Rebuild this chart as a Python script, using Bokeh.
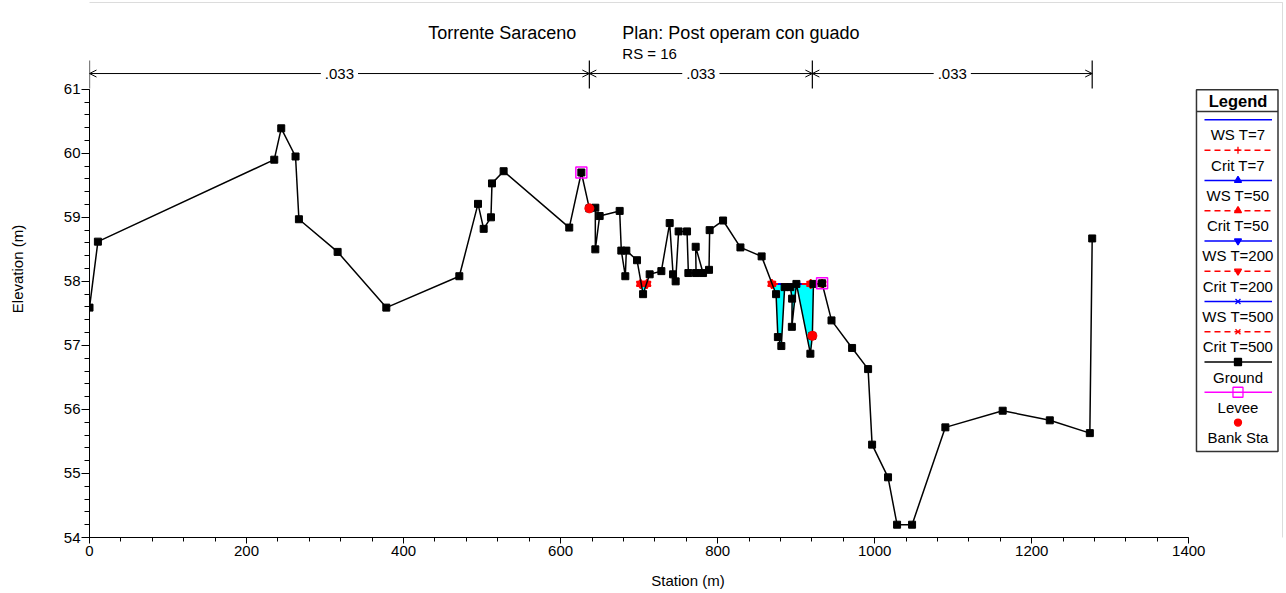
import numpy as np
from bokeh.plotting import figure
from bokeh.models import Range1d, SingleIntervalTicker, Arrow, OpenHead, Label, BoxAnnotation
from bokeh.core.properties import value
from bokeh.embed import file_html
from bokeh.resources import INLINE

FONT = "Liberation Sans"

# ---------------- data ----------------
title_left = "Torrente Saraceno"
title_right = "Plan: Post operam con guado"
subtitle = "RS = 16"

station = [0.0, 10.7, 235.3, 244.2, 262.4, 266.7, 316.0, 378.0, 471.0, 494.8,
           502.0, 511.3, 512.6, 527.4, 611.0, 626.4, 636.6, 644.2, 644.2, 649.7,
           675.2, 677.3, 682.4, 683.7, 697.3, 705.0, 713.4, 728.3, 738.9, 743.2,
           746.5, 750.3, 761.0, 762.7, 772.5, 772.0, 781.4, 789.0, 789.8, 806.9,
           829.0, 856.0, 874.4, 876.7, 881.1, 885.3, 892.6, 894.8, 894.5, 900.3,
           918.1, 920.6, 922.0, 933.0, 945.0, 971.2, 991.6, 996.7, 1017.0, 1028.5,
           1047.6, 1090.0, 1163.0, 1223.0, 1274.0, 1277.0]
elevation = [57.59, 58.62, 59.90, 60.39, 59.95, 58.97, 58.46, 57.59, 58.08, 59.21,
             58.82, 59.00, 59.53, 59.72, 58.84, 59.70, 59.14, 59.15, 58.50, 59.02,
             59.10, 58.48, 58.08, 58.48, 58.33, 57.80, 58.11, 58.16, 58.91, 58.11,
             58.00, 58.78, 58.78, 58.13, 58.13, 58.54, 58.13, 58.18, 58.80, 58.95,
             58.53, 58.39, 57.80, 57.13, 56.99, 57.91, 57.91, 57.73, 57.29, 57.96,
             56.87, 57.15, 57.96, 57.97, 57.39, 56.96, 56.63, 55.45, 54.94, 54.20,
             54.20, 55.72, 55.98, 55.83, 55.63, 58.67]

levee_sta = [626.4, 933.0]
levee_elev = [59.70, 57.97]
bank_sta = [636.6, 920.6]
bank_elev = [59.14, 57.15]

return_periods = ["7", "50", "200", "500"]
ws_elev = [57.96, 57.96, 57.96, 57.96]
crit_elev = [57.96, 57.96, 57.96, 57.96]
ws_extents = [[701.8, 709.8], [869.0, 933.0]]
crit_points = [[701.8, 709.8], [869.0, 918.5, 933.0]]

mann_n = [".033", ".033", ".033"]
n_breaks = [0.0, 636.6, 920.6, 1277.0]

x_label = "Station (m)"
y_label = "Elevation (m)"

# ---------------- layout helpers (reference pixel -> data) ----------------
X0PX, XS = 89.3, 0.785
Y0PX, YS = 536.7, 64.0


def px_x(px):
    return (px - X0PX) / XS


def px_y(py):
    return 54.0 + (Y0PX - py) / YS


W, H = 1286, 593
BL, BB = 89, 56
p = figure(width=W, height=H, output_backend="svg", toolbar_location=None,
           x_range=Range1d(0, px_x(W)), y_range=Range1d(54, px_y(0)),
           min_border_left=BL, min_border_right=0, min_border_top=0,
           min_border_bottom=BB)
p.outline_line_color = None
p.xgrid.visible = False
p.ygrid.visible = False
p.background_fill_color = "white"
p.border_fill_color = "white"

# outer frame of the whole picture
p.add_layout(BoxAnnotation(left=4, right=1282, top=2, bottom=591,
                           left_units="canvas", right_units="canvas",
                           top_units="canvas", bottom_units="canvas",
                           fill_color=None, fill_alpha=0, line_color="#8a8a8a",
                           line_width=1, level="underlay"))

# axes
p.xaxis.ticker = SingleIntervalTicker(interval=200, num_minor_ticks=5)
p.yaxis.ticker = SingleIntervalTicker(interval=1, num_minor_ticks=5)
p.xaxis.bounds = (0, 1400)
p.yaxis.bounds = (54, 61)
p.xaxis.axis_label = x_label
p.yaxis.axis_label = y_label
for ax in (p.xaxis, p.yaxis):
    ax.axis_line_color = "black"
    ax.major_tick_line_color = "black"
    ax.minor_tick_line_color = "black"
    ax.major_tick_in = 0
    ax.minor_tick_in = 0
    ax.major_label_text_font = FONT
    ax.major_label_text_font_size = "15px"
    ax.major_label_text_color = "black"
    ax.axis_label_text_font = FONT
    ax.axis_label_text_font_size = "15px"
    ax.axis_label_text_font_style = "normal"
    ax.axis_label_text_color = "black"
p.xaxis.major_tick_out = 6
p.xaxis.minor_tick_out = 4
p.xaxis.major_label_standoff = 2
p.xaxis.axis_label_standoff = 13
p.yaxis.major_tick_out = 8
p.yaxis.minor_tick_out = 5
p.yaxis.major_label_standoff = 1
p.yaxis.axis_label_standoff = 35

# ---------------- water (cyan fill) ----------------
st = np.array(station)
el = np.array(elevation)
ws = ws_elev[-1]
for x0, x1 in ws_extents:
    mask = (st > x0) & (st < x1)
    xs = [x0] + list(st[mask]) + [x1]
    ys = [ws] + list(np.minimum(el[mask], ws)) + [ws]
    p.patch(xs, ys, fill_color="#00FFFF", line_color=None)

# WS lines (blue)
ws_markers = [None, "triangle", "inverted_triangle", "x"]
for k, T in enumerate(return_periods):
    for seg in ws_extents:
        p.line(seg, [ws_elev[k]] * len(seg), line_color="blue", line_width=1.5)
        if ws_markers[k]:
            p.scatter(seg, [ws_elev[k]] * len(seg), marker=ws_markers[k], size=7,
                      line_color="blue", fill_color="blue")

# Crit lines (red dashed)
crit_markers = ["cross", "triangle", "inverted_triangle", "x"]
for k, T in enumerate(return_periods):
    for seg in crit_points:
        p.line(seg, [crit_elev[k]] * len(seg), line_color="red", line_width=1.2,
               line_dash="6 4")
        p.scatter(seg, [crit_elev[k]] * len(seg), marker=crit_markers[k], size=8,
                  line_color="red", fill_color="red", line_width=1.5)

# ground
p.line(station, elevation, line_color="black", line_width=1.5)
p.scatter(station, elevation, marker="square", size=7, line_color="black",
          fill_color="black")

# levee & bank stations
p.scatter(levee_sta, levee_elev, marker="square", size=11, line_color="#FF00FF",
          fill_color=None, line_width=1.5)
p.scatter(bank_sta, bank_elev, marker="circle", size=9, line_color="red",
          fill_color="red")

# ---------------- Manning's n bar ----------------
yn = px_y(73)
p.segment(x0=n_breaks, y0=[px_y(88)] * len(n_breaks), x1=n_breaks,
          y1=[px_y(60)] * len(n_breaks), line_color="black", line_width=1.2)
for i, nv in enumerate(mann_n):
    a, b = n_breaks[i], n_breaks[i + 1]
    p.add_layout(Arrow(start=OpenHead(size=7, line_width=1, line_color="black"),
                       end=OpenHead(size=7, line_width=1, line_color="black"),
                       x_start=a, x_end=b, y_start=yn, y_end=yn,
                       line_color="black", line_width=1))
    p.add_layout(Label(x=(a + b) / 2, y=yn, text=nv, text_align="center",
                       text_baseline="middle", text_font=FONT,
                       text_font_size="15px", text_color="black",
                       background_fill_color="white", padding=4))

# ---------------- titles ----------------
p.add_layout(Label(x=px_x(428), y=px_y(32), text=title_left, text_align="left",
                   text_baseline="alphabetic", text_font=FONT,
                   text_font_size="18px", text_color="black"))
p.add_layout(Label(x=px_x(622), y=px_y(32), text=title_right, text_align="left",
                   text_baseline="alphabetic", text_font=FONT,
                   text_font_size="18px", text_color="black"))
p.add_layout(Label(x=px_x(622), y=px_y(53), text=subtitle, text_align="left",
                   text_baseline="alphabetic", text_font=FONT,
                   text_font_size="15px", text_color="black"))

# ---------------- custom legend (glyph above label) ----------------
leg_labels = ["WS T=7", "Crit T=7", "WS T=50", "Crit T=50", "WS T=200",
              "Crit T=200", "WS T=500", "Crit T=500", "Ground", "Levee", "Bank Sta"]
leg_line_color = ["blue", "red", "blue", "red", "blue", "red", "blue", "red",
                  "black", "#FF00FF", None]
leg_dash = ["solid", "6 4", "solid", "6 4", "solid", "6 4", "solid", "6 4",
            "solid", "solid", None]
leg_marker = [None, "cross", "triangle", "triangle", "inverted_triangle",
              "inverted_triangle", "x", "x", "square", "square", "circle"]
leg_mfill = [None, "red", "blue", "red", "blue", "red", "blue", "red", "black",
             None, "red"]
leg_mline = [None, "red", "blue", "red", "blue", "red", "blue", "red", "black",
             "#FF00FF", "red"]

bl, br, bt, bb = 1196, 1277.5, 89.3, 450.7
p.quad(left=[px_x(bl)], right=[px_x(br)], top=[px_y(bt)], bottom=[px_y(bb)],
       fill_color="white", line_color="#333333", line_width=1.5)
p.segment(x0=[px_x(bl)], y0=[px_y(111)], x1=[px_x(br)], y1=[px_y(111)],
          line_color="#333333", line_width=1.5)
p.text(x=[px_x(1237.5)], y=[px_y(100)], text=["Legend"], text_align="center",
       text_baseline="middle", text_font=value(FONT), text_font_size="16.5px",
       text_font_style="bold", text_color="black")
cx = px_x(1237.5)
for i, lab in enumerate(leg_labels):
    ly = 119.3 + i * 30.25
    if leg_line_color[i]:
        p.line([px_x(1204), px_x(1271.5)], [px_y(ly), px_y(ly)],
               line_color=leg_line_color[i], line_width=1.5, line_dash=leg_dash[i])
    if leg_marker[i]:
        p.scatter([cx], [px_y(ly)], marker=leg_marker[i],
                  size=10 if leg_marker[i] == "square" and leg_mfill[i] is None else 7,
                  fill_color=leg_mfill[i], line_color=leg_mline[i], line_width=1.3)
    p.text(x=[cx], y=[px_y(ly + 15)], text=[lab], text_align="center",
           text_baseline="middle", text_font=value(FONT), text_font_size="15px",
           text_color="black")

open("out.html", "w").write(file_html(p, INLINE))
